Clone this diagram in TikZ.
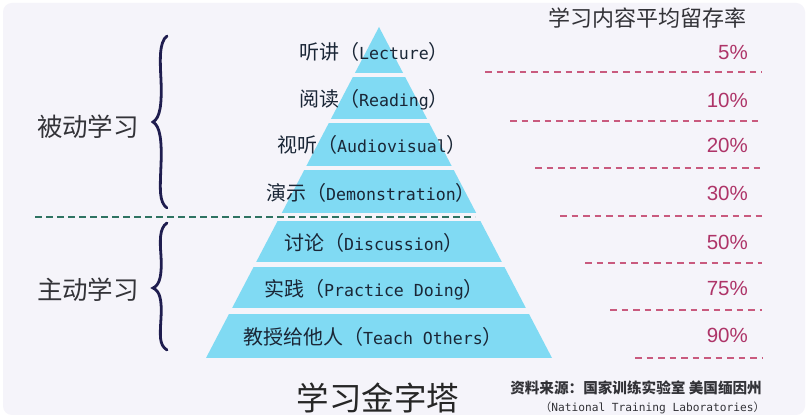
\documentclass[tikz,border=0pt]{standalone}
\usepackage{fontspec}
\setmainfont{Noto Sans CJK SC}
\newfontfamily\monofont{DejaVu Sans Mono}
\newfontfamily\pctfont{Liberation Sans}
\usetikzlibrary{positioning}
\definecolor{card}{HTML}{F5F4FA}
\definecolor{pyr}{HTML}{80DAF3}
\definecolor{ink}{HTML}{1A2636}
\definecolor{ink2}{HTML}{333338}
\definecolor{rose}{HTML}{AE3468}
\definecolor{rosedash}{HTML}{C95A7E}
\definecolor{gline}{HTML}{2E7362}
\definecolor{navy}{HTML}{1F1D4F}
\newcommand\lyrtext[2]{#1（{\monofont\fontsize{16.6}{20}\selectfont #2}）}
\tikzset{
  lyr/.style={inner sep=0pt,text=ink,font=\fontsize{20}{22}\selectfont},
  pct/.style={inner sep=0pt,anchor=east,text=rose,font=\pctfont\fontsize{20.5}{22}\selectfont},
  sep/.style={draw=rosedash,line width=1.1pt,dash pattern=on 6.5pt off 5pt},
  grp/.style={inner sep=0pt,text=ink2,font=\fontsize{25.5}{28}\selectfont},
  brc/.style={draw=navy,line width=2.8pt,line cap=round},
}

\begin{document}
\begin{tikzpicture}[x=1pt,y=-1pt]
  \useasboundingbox (0,0) rectangle (809,419);
  \fill[white] (0,0) rectangle (809,419);
  \fill[card,rounded corners=9pt] (3,3) rectangle (805,415);
  % pyramid
  \begin{scope}
    \clip (379,27) -- (206,358) -- (552,358) -- cycle;
    \foreach \t/\b in {20/73,77/119,123/166,170/213,221/262,267/308,314/358}
      \fill[pyr] (150,\t) rectangle (620,\b);
  \end{scope}
  \draw[gline,line width=1.6pt,dash pattern=on 7pt off 4pt] (35,217) -- (475,217);
  % layers
  \node[lyr] (lec) at (374,52) {\lyrtext{听讲}{Lecture}};
  \node[lyr] (rea) at (374,100) {\lyrtext{阅读}{Reading}};
  \node[lyr] (aud) at (372,145) {\lyrtext{视听}{Audiovisual}};
  \node[lyr] (dem) at (371,193) {\lyrtext{演示}{Demonstration}};
  \node[lyr] (dis) at (374,243) {\lyrtext{讨论}{Discussion}};
  \node[lyr] (pra) at (374,290) {\lyrtext{实践}{Practice Doing}};
  \node[lyr] (tea) at (373,337) {\lyrtext{教授给他人}{Teach Others}};
  % retention rates
  \node[inner sep=0pt,text=ink2,font=\fontsize{22}{24}\selectfont] (rate) at (647,18) {学习内容平均留存率};
  \node[pct] (p5) at (748,52) {5\%};
  \node[pct] (p10) at (748,100) {10\%};
  \node[pct] (p20) at (748,145) {20\%};
  \node[pct] (p30) at (748,193) {30\%};
  \node[pct] (p50) at (748,242) {50\%};
  \node[pct] (p75) at (748,288) {75\%};
  \node[pct] (p90) at (748,335) {90\%};
  \foreach \y/\x in {72/485,121/510,168/535,216/560,263/585,310/610,358/635}
    \draw[sep] (\x,\y) -- (762,\y);
  % groups
  \node[grp] (pas) at (88,127) {被动学习};
  \node[grp] (act) at (88,290) {主动学习};
  \draw[brc] (167,36) .. controls (159,42) and (160,60) .. (161,80)
    .. controls (162,105) and (160,118) .. (153,122)
    .. controls (160,126) and (162,140) .. (161,165)
    .. controls (160,190) and (159,202) .. (167,208);
  \draw[brc] (167,223) .. controls (159,228) and (160,242) .. (161,256)
    .. controls (162,275) and (160,285) .. (153,288)
    .. controls (160,291) and (162,300) .. (161,318)
    .. controls (160,336) and (159,345) .. (167,350);
  % title and source
  \node[inner sep=0pt,text=black!85,font=\fontsize{32.5}{34}\selectfont] (ttl) at (378,398) {学习金字塔};
  \node[inner sep=0pt,anchor=east,text=ink2,font=\bfseries\fontsize{14.6}{16}\selectfont] (src) at (762,388) {资料来源：国家训练实验室 美国缅因州};
  \node[inner sep=0pt,anchor=east,text=ink2,font=\fontsize{11.2}{13}\selectfont] (ntl) at (765,408) {（{\monofont National Training Laboratories}）};
\end{tikzpicture}
\end{document}
